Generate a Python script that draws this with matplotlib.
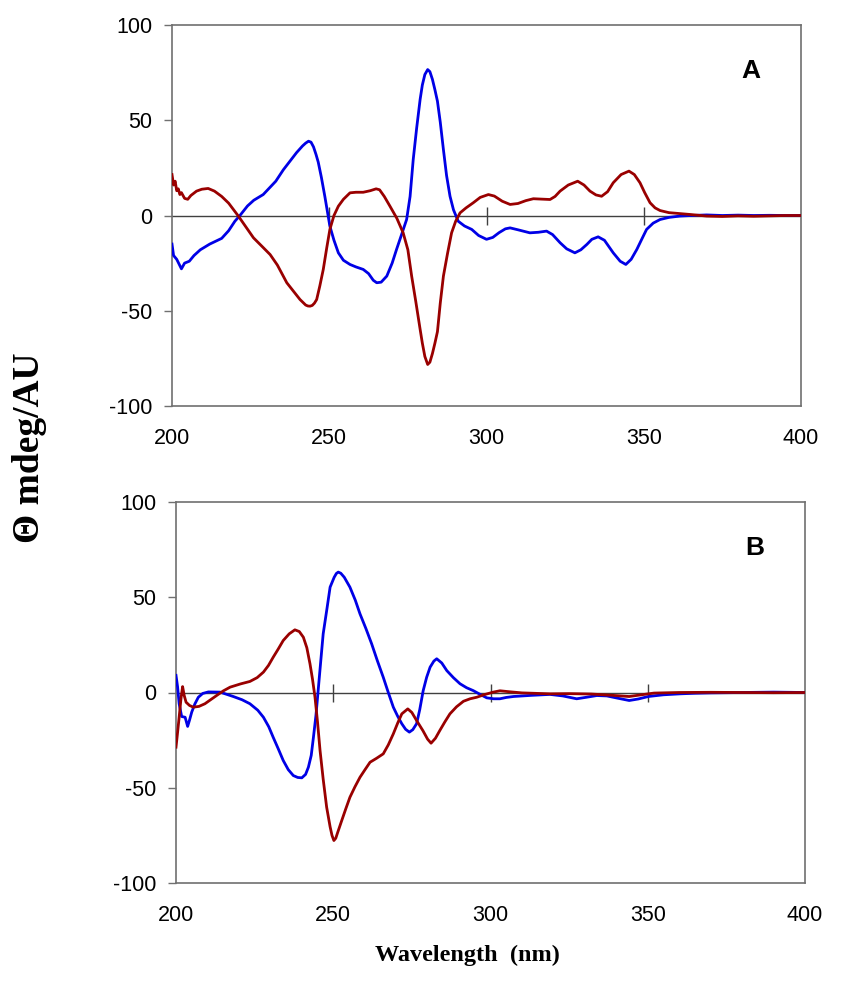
import numpy as np
import matplotlib
matplotlib.use("Agg")
import matplotlib.pyplot as plt

plt.rcParams['axes.unicode_minus'] = False

# panel A, blue
wl_a_blue = [200, 200.5, 201.5, 203, 204, 205.5, 207, 209, 212, 215.8, 218, 220, 221.6, 224, 226, 229, 231,
             233, 235.4, 237.5, 239.6, 241.5, 242.5, 243.4, 244.2, 245, 245.8, 246.5, 247.5, 248.6, 250.2,
             251.5, 252.9, 254.5, 256.6, 258.5, 260.8, 262.5, 264, 265.1, 266.5, 268.3, 270, 271.4, 273,
             274.6, 275.7, 276.7, 277.8, 278.9, 279.6, 280.4, 281.3, 282, 282.8, 283.6, 284.4, 285.3,
             286.3, 287.3, 288.4, 289.5, 291, 293, 295.3, 297.5, 300, 302, 304, 306, 307.5, 310, 313.8,
             316.5, 319.1, 321, 323.4, 325.5, 328.1, 330, 331.9, 333.5, 335.5, 337.5, 340.3, 342.5, 344.3,
             346, 347.8, 349.5, 350.9, 353, 355.2, 358, 361.5, 365, 370, 375, 380, 385, 390, 395, 400]
cd_a_blue = [-15, -21, -23, -28, -25, -24, -21, -18, -15, -12, -8, -3, 0, 5, 8, 11, 14.5,
             18, 24, 28.5, 33, 36.5, 38, 39, 38.5, 36, 32, 28, 20, 10, -5.6,
             -13, -19.6, -23.5, -25.7, -27, -28.3, -30.5, -34, -35.3, -35, -31.8, -25, -17.8, -10,
             -2.1, 10, 29.4, 46, 61, 68.5, 74, 76.6, 75.5, 71.5, 66, 60, 49,
             34.6, 21, 10.1, 3, -3, -5.5, -7.3, -10.5, -12.5, -11.5, -9, -7, -6.5, -7.5, -9.1,
             -8.8, -8.2, -10, -14.3, -17.5, -19.6, -18, -15.2, -12.5, -11.2, -13, -19.6, -24, -25.7,
             -23, -17.8, -12, -7.3, -4, -2.1, -1, -0.3, 0, 0.3, 0, 0.2, 0, 0.1, 0, 0]

# panel A, red
wl_a_red = [200, 200.5, 201, 201.5, 202, 202.5, 203, 204, 205, 206, 207.8, 209.5, 211.5, 213.5, 215.8,
            218, 221.1, 223.5, 225.9, 228.5, 231.2, 233.5, 236.5, 238.5, 240.7, 242.5, 243.2, 243.9,
            244.6, 245.3, 246, 247, 248.1, 249.2, 250.2, 251.5, 252.9, 254.5, 256.6, 258.5, 260.8, 263,
            264.9, 266, 267.5, 269.3, 271.5, 273.5, 275, 276.2, 277.5, 278.9, 279.6, 280.4, 281.3, 282,
            282.8, 283.6, 284.4, 285.3, 286.3, 287.6, 288.9, 290.2, 291.6, 293.5, 295.8, 298, 300.6,
            302.5, 305, 307.5, 310, 312.5, 314.9, 317.5, 320.2, 321.8, 323.4, 326, 329, 331, 332.9,
            334.8, 336.6, 338.5, 340.3, 342.8, 345.3, 347, 348.8, 350.3, 352, 353.6, 355.2, 358, 361.5,
            365, 370, 375, 380, 385, 390, 395, 400]
cd_a_red = [21.5, 16, 18, 13, 14, 11, 12, 9, 8.5, 10.5, 12.8, 13.8, 14.2, 12.8, 10,
            6.5, -0.3, -6, -11.7, -16, -20.5, -26, -35.3, -39.5, -44.1, -47, -47.5, -47.6,
            -47.2, -46, -44.1, -37, -28.3, -17, -7.3, 0, 4.9, 8.5, 11.9, 12.2, 12.2, 13,
            14, 13.5, 10, 4.9, -1.5, -9.1, -18, -31.8, -45, -59.8, -67, -74, -78.2, -77,
            -72.5, -67, -61, -46, -31.8, -20, -9.1, -3, 1.4, 4, 6.7, 9.5, 11,
            10.2, 7.5, 5.8, 6.3, 7.8, 8.8, 8.6, 8.4, 10, 12.8, 16, 18, 16, 12.8,
            10.8, 10.1, 12.5, 17.2, 21.5, 23.3, 21.5, 17.2, 12, 6.7, 4, 2.6, 1.5, 1,
            0.5, -0.3, -0.5, -0.2, -0.4, -0.2, 0, 0]

# panel B, blue
wl_b_blue = [200, 200.5, 201, 201.8, 202.9, 203.7, 204.3, 205, 206, 207.1, 208.5, 210.3, 214, 218.2, 221,
             223.5, 226, 227.8, 229.5, 230.9, 232.5, 234.1, 235.7, 237.3, 238.7, 240, 241.2, 242.1, 243,
             243.7, 244.5, 245.2, 246, 246.8, 248, 249, 250.3, 251, 251.6, 252.4, 253.5, 255.3, 257,
             258.5, 260.4, 262.2, 264, 265.9, 267.5, 269.1, 270.5, 271.8, 273, 274.2, 275.3, 276.5,
             277.5, 278.6, 279.7, 280.8, 282, 282.9, 284.5, 286.1, 288.2, 290.3, 292.4, 294.5, 296.5,
             298.8, 301, 303, 305, 307.3, 313, 318.9, 323, 327.4, 330.5, 333.8, 337, 340.5, 344.1, 347,
             350.2, 355, 360.3, 365, 370, 380, 390, 400]
cd_b_blue = [9, 3, -5.9, -12.6, -13, -17.8, -14.5, -10.3, -6, -2.5, -0.5, 0.3, 0.2, -2.1, -3.8,
             -5.9, -9.3, -13, -18, -23.5, -29.5, -35.7, -40.5, -43.6, -44.6, -44.8, -43, -39.2, -33,
             -23.5, -12, 1, 16, 30.8, 44, 55.3, 60.5, 62.5, 63.2, 62.6, 60.5, 55.3, 48.5,
             41.3, 33.5, 25.6, 16.8, 8, 0, -7.7, -12.5, -16.4, -19.3, -20.8, -19.5, -16.4,
             -9, 1, 8, 13.3, 16.5, 17.7, 15.5, 11.5, 7.8, 4.6, 2.5, 1, -0.8,
             -2.8, -3.3, -3.3, -2.6, -2.1, -1.5, -1, -1.8, -3.3, -2.5, -1.6, -1.8, -3, -4.2, -3.4,
             -2.1, -1.2, -0.7, -0.4, -0.2, 0, 0.2, 0]

# panel B, red
wl_b_red = [200, 200.5, 201, 201.6, 202.1, 202.6, 203.2, 204.3, 205.5, 207.3, 209.2, 211, 212.9, 215,
            217.2, 220.5, 223.5, 225.8, 227.8, 229.4, 230.9, 232.5, 234.1, 236, 237.8, 239.2, 240.5,
            241.6, 242.6, 243.4, 244.2, 245, 245.8, 246.8, 247.9, 249, 249.6, 250.2, 250.8, 251.4,
            252.7, 254, 255.3, 256.9, 258.5, 260.1, 261.7, 263.8, 265.9, 267.5, 269.1, 270.5, 271.8,
            273.7, 275, 276.5, 278.5, 280, 281.1, 282.5, 283.9, 285.5, 287.1, 289.2, 291.4, 293.5,
            295.6, 298.3, 300.9, 303, 306, 310, 318.9, 325, 332, 338, 344.1, 348, 352, 360, 370, 380,
            390, 400]
cd_b_red = [-28.7, -21, -13, -3, 3.1, -1.5, -5.1, -6.8, -7.7, -7.3, -5.9, -3.8, -1.6, 0.8,
            2.8, 4.5, 5.8, 7.8, 10.7, 14.2, 18.5, 22.8, 27.3, 30.8, 32.9, 32, 29,
            23.5, 15.1, 7, -2.5, -15.5, -30.4, -45.5, -60.2, -70.5, -75, -77.7, -76.5, -73.5,
            -67.2, -61, -55, -49.5, -44.5, -40.5, -36.6, -34.5, -32.2, -27.5, -21.7, -16, -11.2,
            -8.6, -10.5, -14.7, -20, -24.5, -26.6, -24, -19.9, -15.4, -11.2, -7.5, -4.6, -3.3,
            -2.5, -1, 0.2, 0.9, 0.4, -0.2, -0.7, -0.6, -0.8, -1.4, -2.1, -1.2, -0.3, 0, 0.1, 0,
            -0.1, 0]

x_ticks = [200, 250, 300, 350, 400]
y_ticks = [-100, -50, 0, 50, 100]
zero_ticks = [250, 300, 350]

blue = '#0000e6'
red = '#990000'
frame = '#707070'

fig = plt.figure(figsize=(8.51, 9.81), dpi=100)
ax_a = fig.add_axes([172 / 851, 1 - 406 / 981, 629 / 851, 381 / 981])
ax_b = fig.add_axes([176 / 851, 1 - 883 / 981, 629 / 851, 381 / 981])

panels = [(ax_a, wl_a_blue, cd_a_blue, wl_a_red, cd_a_red, 'A'),
          (ax_b, wl_b_blue, cd_b_blue, wl_b_red, cd_b_red, 'B')]

for ax, wb, cb, wr, cr, lab in panels:
    ax.axhline(0, color='#404040', lw=1, zorder=1)
    ax.plot(zero_ticks, [0] * len(zero_ticks), linestyle='none', marker='|',
            markersize=13, markeredgewidth=1, color='#404040', zorder=1)
    ax.plot(wb, cb, color=blue, lw=2, zorder=3, solid_joinstyle='round')
    ax.plot(wr, cr, color=red, lw=2, zorder=3, solid_joinstyle='round')
    ax.set_xlim(200, 400)
    ax.set_ylim(-100, 100)
    ax.set_xticks(x_ticks)
    ax.set_yticks(y_ticks)
    for s in ax.spines.values():
        s.set_color(frame)
        s.set_linewidth(1.2)
    ax.tick_params(axis='y', direction='out', length=6, width=1, color=frame,
                   pad=8, labelsize=15.5)
    ax.tick_params(axis='x', length=0, pad=16, labelsize=15.5)
    for t in ax.get_xticklabels() + ax.get_yticklabels():
        t.set_fontfamily('Liberation Sans')
    ax.text(0.92, 0.88, lab, transform=ax.transAxes, ha='center', va='center',
            fontsize=19, fontweight='bold', family='Liberation Sans')

fig.text(30 / 851, 1 - 448 / 981, 'Θ mdeg/AU', rotation=90, ha='center', va='center',
         fontsize=27, fontweight='bold', family='Liberation Serif')
fig.text(467 / 851, 1 - 955 / 981, 'Wavelength  (nm)', ha='center', va='center',
         fontsize=17.5, fontweight='bold', family='Liberation Serif')

fig.savefig('out.png', dpi=100)
